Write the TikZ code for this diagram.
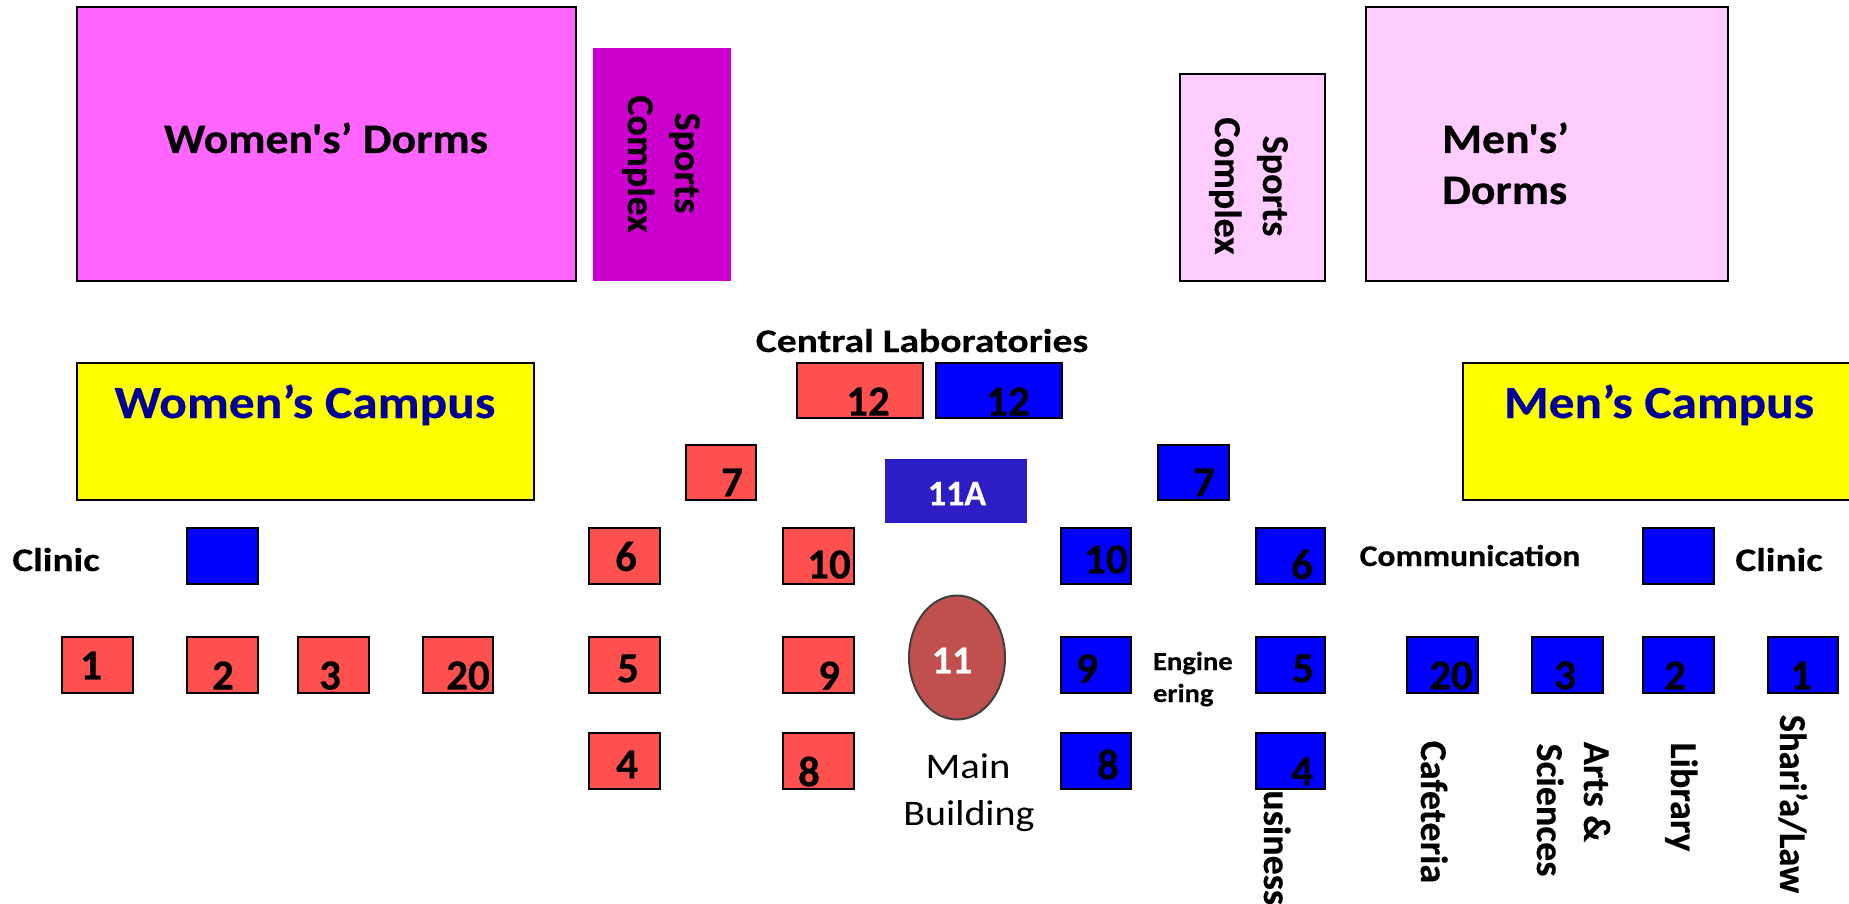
\documentclass[tikz,border=0pt]{standalone}
\usepackage{fontspec}
\usepackage{graphicx}
\setmainfont{Carlito}[Ligatures=TeXOff,BoldFeatures={FakeBold=0.35}]
\usetikzlibrary{shapes.geometric}
\definecolor{womendorm}{HTML}{FF66FF}
\definecolor{womensport}{HTML}{CC00CC}
\definecolor{menpink}{HTML}{FFCCFF}
\definecolor{campusyellow}{HTML}{FFFF00}
\definecolor{redroom}{HTML}{FF5050}
\definecolor{blueroom}{HTML}{0000FF}
\definecolor{elevenA}{HTML}{2C1EC4}
\definecolor{mainoval}{HTML}{C0504D}
\definecolor{campustext}{HTML}{000099}
\newcommand{\fsz}[1]{\fontsize{#1}{#1}\selectfont}
\newcommand{\sx}[2]{\scalebox{#1}[1]{#2}}
% name, x1, y1, x2, y2, style
\newcommand{\room}[6]{\node[#6,minimum width={(#4-#2)*1pt},minimum height={(#5-#3)*1pt}] (#1) at ({(#2+#4)/2},{(#3+#5)/2}) {};}
\tikzset{
  bx/.style={draw=black,line width=2.8pt,inner sep=0pt,outer sep=0pt,rectangle},
  wdorm/.style={bx,fill=womendorm},
  pinkbox/.style={bx,fill=menpink},
  camp/.style={bx,fill=campusyellow},
  red/.style={bx,fill=redroom},
  blu/.style={bx,fill=blueroom},
  txt/.style={anchor=base,inner sep=0pt,outer sep=0pt,font=\bfseries},
  num/.style={anchor=center,yshift=-1.5pt,inner sep=0pt,outer sep=0pt,font=\bfseries\fsz{43}},
  vert/.style={anchor=base,rotate=-90,inner sep=0pt,outer sep=0pt,font=\bfseries\fsz{38}},
}
\begin{document}
\begin{tikzpicture}[x=1pt,y=-1pt]
\useasboundingbox (0,0) rectangle (1849,904);
\fill[white] (0,0) rectangle (1849,904);
% large blocks
\room{wd}{77}{7}{576}{281}{wdorm}
\room{ws}{593}{48}{731}{281}{rectangle,fill=womensport,inner sep=0pt,outer sep=0pt}
\room{ms}{1180}{74}{1325}{281}{pinkbox}
\room{md}{1366}{7}{1728}{281}{pinkbox}
\room{wc}{77}{363}{534}{500}{camp}
\room{mc}{1463}{363}{1852}{500}{camp}
% text hidden partly behind room 4
\node[vert] (tbus) at (1264,837) {Business};
% red rooms
\room{r12}{797}{363}{923}{418}{red}
\room{r7}{686}{445}{756}{500}{red}
\room{r6}{589}{528}{660}{584}{red}
\room{r10}{783}{528}{854}{584}{red}
\room{r1}{62}{637}{133}{693}{red}
\room{r2}{187}{637}{258}{693}{red}
\room{r3}{298}{637}{369}{693}{red}
\room{r20}{423}{637}{493}{693}{red}
\room{r5}{589}{637}{660}{693}{red}
\room{r9}{783}{637}{854}{693}{red}
\room{r4}{589}{733}{660}{789}{red}
\room{r8}{783}{733}{854}{789}{red}
% blue rooms
\room{bclinicw}{187}{528}{258}{584}{blu}
\room{b12}{936}{363}{1062}{418}{blu}
\room{b7}{1158}{445}{1229}{500}{blu}
\room{b10}{1061}{528}{1131}{584}{blu}
\room{b6}{1256}{528}{1325}{584}{blu}
\room{bclinicm}{1643}{528}{1714}{584}{blu}
\room{b9}{1061}{637}{1131}{693}{blu}
\room{b5}{1256}{637}{1325}{693}{blu}
\room{b20}{1407}{637}{1478}{693}{blu}
\room{b3}{1532}{637}{1603}{693}{blu}
\room{b2}{1643}{637}{1714}{693}{blu}
\room{b1}{1768}{637}{1838}{693}{blu}
\room{b8}{1061}{733}{1131}{789}{blu}
\room{b4}{1256}{733}{1325}{789}{blu}
\room{b11a}{885}{459}{1027}{523}{rectangle,fill=elevenA,inner sep=0pt,outer sep=0pt}
\node[ellipse,draw=black!75,line width=2pt,fill=mainoval,inner sep=0pt,minimum width=96pt,minimum height=124pt] (main) at (957,657.5) {};
% big labels
\node[txt,font=\bfseries\fsz{42}] (twd) at (326,153) {\sx{1.09}{Women's’ Dorms}};
\node[txt,anchor=base west,font=\bfseries\fsz{42}] (tmd1) at (1442,153) {\sx{1.09}{Men's’}};
\node[txt,anchor=base west,font=\bfseries\fsz{42}] (tmd2) at (1442,204) {\sx{1.09}{Dorms}};
\node[txt,font=\bfseries\fsz{46},text=campustext] (twc) at (305,418) {\sx{1.12}{Women’s Campus}};
\node[txt,font=\bfseries\fsz{46},text=campustext] (tmc) at (1659,418) {\sx{1.115}{Men’s Campus}};
\node[txt,font=\bfseries\fsz{33}] (tcl) at (922,352) {\sx{1.2}{Central Laboratories}};
\node[txt,font=\bfseries\fsz{33}] (tclw) at (56,571) {\sx{1.19}{Clinic}};
\node[txt,font=\bfseries\fsz{33}] (tclm) at (1779,571) {\sx{1.19}{Clinic}};
\node[txt,font=\bfseries\fsz{30}] (tcom) at (1470,566) {\sx{1.12}{Communication}};
\node[txt,anchor=base west,font=\bfseries\fsz{26}] (ten1) at (1153,670) {\sx{1.1}{Engine}};
\node[txt,anchor=base west,font=\bfseries\fsz{26}] (ten2) at (1153,702) {\sx{1.1}{ering}};
\node[txt,font=\fsz{36}] (tm1) at (968,778) {\sx{1.13}{Main}};
\node[txt,font=\fsz{36}] (tm2) at (969,825) {\sx{1.11}{Building}};
% vertical labels
\node[vert] (tsw1) at (675,163) {Sports};
\node[vert] (tsw2) at (628,164) {Complex};
\node[vert] (tsm1) at (1263,186) {Sports};
\node[vert] (tsm2) at (1215,186) {Complex};
\node[vert] (tcaf) at (1421,812) {Cafeteria};
\node[vert] (tart) at (1584,792) {Arts \&};
\node[vert] (tsci) at (1537,810) {Sciences};
\node[vert] (tlib) at (1671,797) {Library};
\node[vert] (tsha) at (1780,804) {\sx{0.96}{Shari’a/Law}};
% numbers
\node[num] (n1) at (91,664) {1};
\node[num] (n2) at (223,674) {2};
\node[num] (n3) at (330,674) {3};
\node[num] (n20) at (468,674) {20};
\node[num] (n5) at (628,667) {5};
\node[num] (n9) at (829,674) {9};
\node[num] (n6) at (626,555) {6};
\node[num] (n10) at (829,563) {10};
\node[num] (n4) at (627,763) {4};
\node[num] (n8) at (809,770) {8};
\node[num] (n7) at (732,481) {7};
\node[num] (n12) at (868,400) {12};
\node[num] (m12) at (1008,400) {12};
\node[num] (m7) at (1204,481) {7};
\node[num] (m10) at (1106,558) {10};
\node[num] (m6) at (1302,563) {6};
\node[num] (m9) at (1087,667) {9};
\node[num] (m5) at (1303,667) {5};
\node[num] (m8) at (1108,763) {8};
\node[num] (m4) at (1302,770) {4};
\node[num] (m20) at (1451,674) {20};
\node[num] (m3) at (1565,674) {3};
\node[num] (m2) at (1675,674) {2};
\node[num] (m1) at (1801,674) {1};
\node[num,font=\bfseries\fsz{36},text=white] (t11a) at (957,492) {11A};
\node[num,font=\bfseries\fsz{40},text=white] (t11) at (952,659) {11};
\end{tikzpicture}
\end{document}
